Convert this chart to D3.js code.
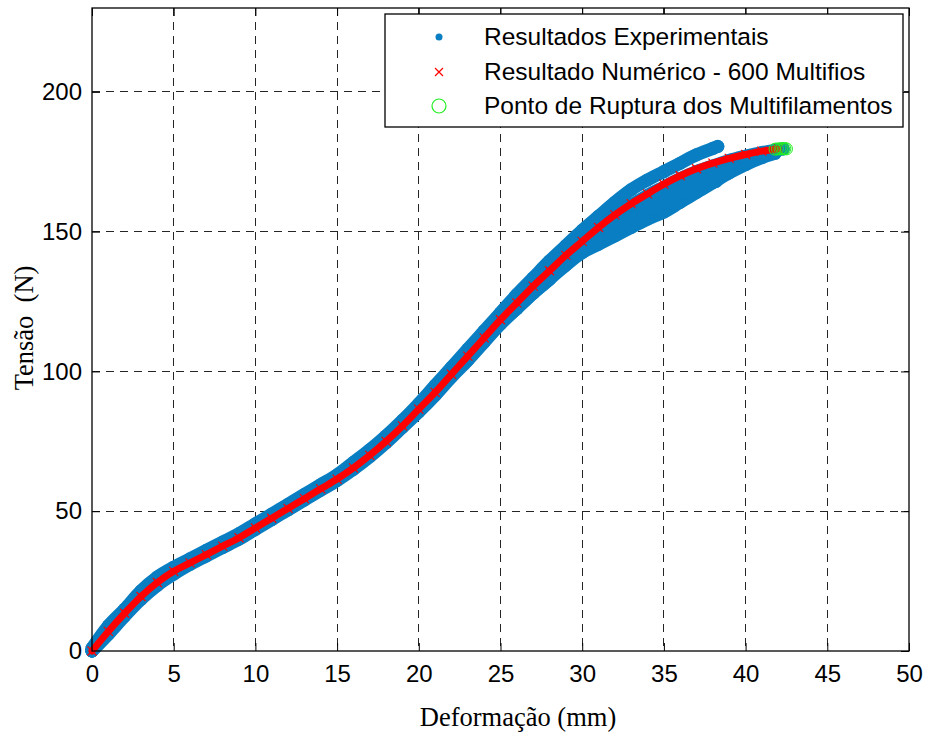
<!DOCTYPE html>
<html>
<head>
<meta charset="utf-8">
<script src="https://cdn.jsdelivr.net/npm/d3@7"></script>
<style>
  html, body { margin: 0; padding: 0; background: #fff; }
  svg { display: block; }
</style>
</head>
<body>
<div id="chart"></div>
<script>
// ---------------- DATA ----------------
const xTicks = [0, 5, 10, 15, 20, 25, 30, 35, 40, 45, 50];
const yTicks = [0, 50, 100, 150, 200];

// Numerical result (600 multifilaments)
const numX = [0,1,2,3,4,5,6,7,8,9,10,11,12,13,14,15,16,17,18,19,20,21,22,23,24,25,26,27,28,29,30,31,32,33,34,35,36,37,38,39,40,41,42];
const numY = [0,7,13.5,19.5,24.5,28.5,31.5,34.5,37.5,40.5,44,47.5,51,54.5,58,61.5,65.5,70,75,80.5,86.5,92.5,99,105.5,112,118.5,124.5,130.5,136,141.5,146.5,151.5,156,160,163.5,167,170,172.5,174.5,176.2,177.6,178.8,179.6];

// Experimental specimens
const exp1X = [0,1,2,3,4,5,6,7,8,9,10,11,12,13,14,15,16,17,18,19,20,21,22,23,24,25,26,27,28,29,30,31,32,33,34,35,36,37,38,38.3];
const exp1Y = [1,9,15,21.5,26.5,30,33,36,39,42,45.5,49,52.5,56,59.5,63,67.5,72,77,82.5,88.5,95,101.5,108,114.5,121,127.5,133.5,139.5,145,150.5,155.5,160.5,165,168.5,171.5,174.5,177.5,179.8,180.5];

const exp2X = [0,1,2,3,4,5,6,7,8,9,10,11,12,13,14,15,16,17,18,19,20,21,22,23,24,25,26,27,28,29,30,31,32,33,34,35,36,37,38,39,40,41,42,42.3];
const exp2Y = [0,7.5,14,20,25,29,32,35,38,41,44.5,48,51.5,55,58.5,62,66,70.5,75.5,81,87,93,99.5,106,112.5,119,125,131,136.5,141.5,146.5,151,155.5,159.5,163,166,169,171.5,173.5,175.5,177,178.3,179.3,179.6];

const exp3X = [0,1,2,3,4,5,6,7,8,9,10,11,12,13,14,15,16,17,18,19,20,21,22,23,24,25,26,27,28,29,30,31,32,33,34,35,36,37,37.8,38.2];
const exp3Y = [0,6,12.5,18.5,23.5,27.5,31,34,37,40,43.5,47,50.5,54,57.5,61,65,69.5,74.5,80,85.5,91.5,98,104,110.5,117,122.5,128,133,139,144.5,149,153,156.5,160,163,166,169,171,168];

const exp4X = [0,1,2,3,4,5,6,7,8,9,10,11,12,13,14,15,16,17,18,19,20,21,22,23,24,25,26,27,28,29,30,31,32,33,34,35,36,37,38,39,40,41,41.8];
const exp4Y = [0,6.5,13,19,24,28,31.5,34.5,37.5,40.5,44,47.5,51,54.5,58,61.5,65.5,70,75,80.5,86,92,98.5,104.5,111,117,122.5,128,133,138,142.5,145.5,148.5,151.5,154.5,157,160.5,164,167.5,171,174,176.5,178];

const exp5X = [25,26,27,28,29,30,31,32,33,34,35,36,37,38,39,40,41];
const exp5Y = [118,124,129.5,135,139.5,144,148,151.5,155,158,160.5,163.5,166.5,169.5,172,174.5,176.8];

// Rupture points of the multifilaments
const rupX = [41.8, 41.95, 42.1, 42.2, 42.3, 42.4, 42.5];
const rupY = [179.5, 179.6, 179.6, 179.7, 179.6, 179.7, 179.6];

const legendLabels = ["Resultados Experimentais", "Resultado Numérico - 600 Multifios", "Ponto de Ruptura dos Multifilamentos"];

// ---------------- LAYOUT ----------------
const W = 927, H = 736;
const L = 92, R = 909, T = 8, B = 651;
const blue = "#0a7ec2", red = "#ff0000", green = "#22ee22";

const svg = d3.select("#chart").append("svg").attr("width", W).attr("height", H);

const x = d3.scaleLinear().domain([0, 50]).range([L, R]);
const y = d3.scaleLinear().domain([0, 230]).range([B, T]);

// grid
const grid = svg.append("g");
grid.selectAll("line.vx").data(xTicks.filter(d => d > 0 && d < 50)).enter().append("line")
  .attr("x1", d => x(d)).attr("x2", d => x(d)).attr("y1", T).attr("y2", B)
  .attr("stroke", "#000").attr("stroke-width", 1).attr("stroke-dasharray", "8,6").attr("shape-rendering", "crispEdges").attr("opacity", 0.85);
grid.selectAll("line.hy").data(yTicks.filter(d => d > 0)).enter().append("line")
  .attr("x1", L).attr("x2", R).attr("y1", d => y(d)).attr("y2", d => y(d))
  .attr("stroke", "#000").attr("stroke-width", 1).attr("stroke-dasharray", "8,6").attr("shape-rendering", "crispEdges").attr("opacity", 0.85);

// axes
const fontTick = "'Liberation Sans', Arial, sans-serif";
const xAxis = d3.axisBottom(x).tickValues(xTicks).tickSize(-8).tickPadding(14).tickFormat(d3.format("d"));
const yAxis = d3.axisLeft(y).tickValues(yTicks).tickSize(-8).tickPadding(10).tickFormat(d3.format("d"));
const gx = svg.append("g").attr("transform", `translate(0,${B})`).call(xAxis);
const gy = svg.append("g").attr("transform", `translate(${L},0)`).call(yAxis);
const gxt = svg.append("g").attr("transform", `translate(0,${T})`).call(d3.axisTop(x).tickValues(xTicks).tickSize(-8).tickFormat(""));
const gyr = svg.append("g").attr("transform", `translate(${R},0)`).call(d3.axisRight(y).tickValues(yTicks).tickSize(-8).tickFormat(""));
[gx, gy, gxt, gyr].forEach(g => {
  g.select(".domain").remove();
  g.selectAll("line").attr("stroke", "#000");
  g.selectAll("text").attr("fill", "#000").style("font-family", fontTick).style("font-size", "24px");
});

// data
const line = d3.line().x(d => x(d[0])).y(d => y(d[1])).curve(d3.curveMonotoneX);
const specs = [[exp1X, exp1Y], [exp2X, exp2Y], [exp3X, exp3Y], [exp4X, exp4Y], [exp5X, exp5Y]];
const dataG = svg.append("g");
specs.forEach(([xs, ys]) => {
  const pts = xs.map((v, i) => [v, ys[i]]);
  dataG.append("path").datum(pts).attr("d", line)
    .attr("fill", "none").attr("stroke", blue).attr("stroke-width", 13)
    .attr("stroke-linecap", "round").attr("stroke-linejoin", "round");
  dataG.selectAll(null).data(pts).enter().append("circle")
    .attr("cx", d => x(d[0])).attr("cy", d => y(d[1])).attr("r", 6.5).attr("fill", blue);
});

const numPts = numX.map((v, i) => [v, numY[i]]);
dataG.append("path").datum(numPts).attr("d", line)
  .attr("fill", "none").attr("stroke", red).attr("stroke-width", 7).attr("stroke-linecap", "round");
const cross = (g, cx, cy, s) => {
  g.append("path").attr("d", `M${cx - s},${cy - s}L${cx + s},${cy + s}M${cx - s},${cy + s}L${cx + s},${cy - s}`)
    .attr("stroke", red).attr("stroke-width", 1.2).attr("fill", "none");
};
numPts.forEach(d => cross(dataG, x(d[0]), y(d[1]), 4.5));

rupX.forEach((v, i) => {
  dataG.append("circle").attr("cx", x(v)).attr("cy", y(rupY[i])).attr("r", 6)
    .attr("fill", "none").attr("stroke", green).attr("stroke-width", 1);
});

// frame
svg.append("rect").attr("x", L).attr("y", T).attr("width", R - L).attr("height", B - T)
  .attr("fill", "none").attr("stroke", "#000").attr("stroke-width", 1.3);

// legend
const lg = svg.append("g");
lg.append("rect").attr("x", 385).attr("y", 14).attr("width", 518).attr("height", 113)
  .attr("fill", "#fff").attr("stroke", "#000").attr("stroke-width", 1.3);
const rowsY = [37, 72, 106];
lg.append("circle").attr("cx", 439).attr("cy", rowsY[0]).attr("r", 3.5).attr("fill", blue);
cross(lg, 439, rowsY[1], 4);
lg.append("circle").attr("cx", 439).attr("cy", rowsY[2]).attr("r", 7).attr("fill", "none").attr("stroke", green).attr("stroke-width", 1.2);
lg.selectAll("text.lab").data(legendLabels).enter().append("text")
  .attr("x", 484).attr("y", (d, i) => rowsY[i] + 8)
  .style("font-family", fontTick).style("font-size", "24.5px").attr("fill", "#000")
  .text(d => d);

// axis titles
svg.append("text").attr("x", 518).attr("y", 726).attr("text-anchor", "middle")
  .style("font-family", "'Liberation Serif', 'Times New Roman', serif").style("font-size", "26.5px")
  .text("Deformação (mm)");
svg.append("text").attr("transform", "translate(33,328) rotate(-90)").attr("text-anchor", "middle")
  .style("font-family", "'Liberation Serif', 'Times New Roman', serif").style("font-size", "26.5px")
  .style("white-space", "pre").attr("xml:space", "preserve")
  .text("Tensão  (N)");
</script>
</body>
</html>
